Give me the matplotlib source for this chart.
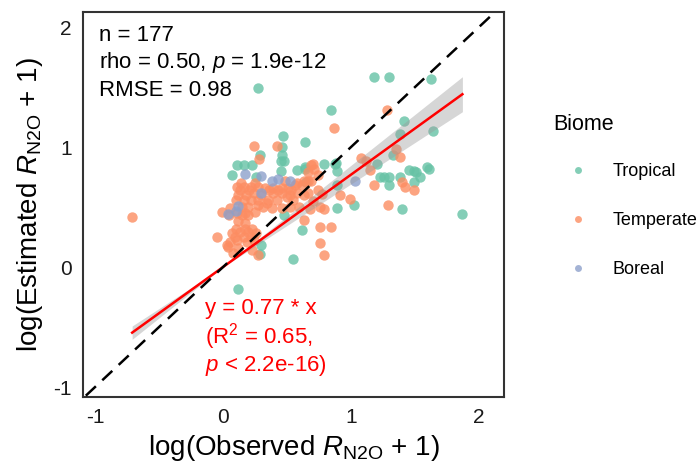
import matplotlib
matplotlib.use("Agg")
import matplotlib.pyplot as plt
from matplotlib.lines import Line2D
import numpy as np

plt.rcParams["font.family"] = ["Liberation Sans", "DejaVu Sans"]
plt.rcParams["mathtext.fontset"] = "custom"
plt.rcParams["mathtext.rm"] = "Liberation Sans"
plt.rcParams["mathtext.it"] = "Liberation Sans:italic"
plt.rcParams["axes.unicode_minus"] = False

# observed / estimated log(R_N2O + 1), by biome
tropical_x = [0.27, 1.18, 1.30, 1.625, 0.84, 1.41, 1.64, 1.38, 0.47, 0.64, 0.29, 0.46, 0.46, 0.45,
              0.48, 0.107, 0.16, 0.23, 0.068, 0.26, 0.45, 0.575, 0.64, 0.79, 0.875, 0.89, 0.64,
              0.65, 0.89, 1.02, 0.89, 0.615, 0.48, 0.30, 0.29, 0.55, 0.12, 1.20, 1.33, 1.23,
              1.26, 1.30, 1.38, 1.30, 1.45, 1.49, 1.51, 1.59, 1.61, 1.49, 1.40, 1.87, 1.54, 0.88]
tropical_y = [1.49, 1.58, 1.58, 1.57, 1.31, 1.22, 1.13, 1.11, 1.09, 1.04, 0.93, 1.00, 0.93, 0.88,
              0.88, 0.85, 0.85, 0.85, 0.77, 0.75, 0.80, 0.81, 0.836, 0.86, 0.86, 0.80, 0.82,
              0.71, 0.68, 0.52, 0.49, 0.31, 0.43, 0.18, 0.11, 0.07, -0.18, 0.86, 0.93, 0.75,
              0.75, 0.75, 0.75, 0.68, 0.81, 0.80, 0.79, 0.83, 0.82, 0.71, 0.48, 0.44, 0.75, 0.87]

temperate_x = [-0.71, 1.28, 0.87, 0.24, 0.42, 0.28, 1.08, 1.12, 1.15, 1.38, 1.35, 1.18, 1.40,
               1.42, 1.49, 1.29, 0.69, 0.71, 0.665, 0.745, 0.70, 0.745, 0.77, 0.91, 0.99, 0.76,
               0.785, 0.68, 0.63, 0.76, 0.84, 0.76, 0.79, -0.05, -0.01, 0.276, 0.03,
               0.107, 0.16, 0.22, 0.277, 0.33, 0.39, 0.46, 0.51, 0.56, 0.615, 0.667,
               0.63, 0.69, 0.485,
               0.12, 0.18, 0.24, 0.30, 0.39, 0.46, 0.52, 0.58, 0.63,
               0.055, 0.146, 0.198, 0.315, 0.38, 0.46, 0.52, 0.59,
               0.05, 0.146, 0.198, 0.25, 0.12, 0.17,
               0.07, 0.135, 0.198, 0.26, 0.055, 0.107, 0.185, 0.24, 0.042, 0.12, 0.224,
               0.10, 0.16, 0.22, 0.27, 0.35, 0.42, 0.55, 0.13, 0.20, 0.36, 0.43, 0.53,
               0.14, 0.25, 0.58, 0.10, 0.17, 0.23, 0.09, 0.16, 0.22, 0.11, 0.17,
               0.70, 0.66, 0.50, 0.34, 0.27, 0.08]
temperate_y = [0.42, 1.31, 1.16, 1.01, 1.01, 0.90, 0.91, 0.88, 0.81, 0.92, 0.98, 0.68, 0.71,
               0.67, 0.64, 0.52, 0.85, 0.82, 0.79, 0.77, 0.86, 0.64, 0.61, 0.60, 0.57, 0.50,
               0.48, 0.48, 0.39, 0.335, 0.335, 0.20, 0.10, 0.25, 0.46, 0.10, 0.18,
               0.67, 0.67, 0.67, 0.67, 0.656, 0.656, 0.656, 0.656, 0.683, 0.683, 0.72,
               0.72, 0.72, 0.72,
               0.60, 0.60, 0.615, 0.60, 0.615, 0.615, 0.60, 0.615, 0.60,
               0.49, 0.50, 0.50, 0.50, 0.49, 0.49, 0.50, 0.50,
               0.43, 0.43, 0.43, 0.46, 0.38, 0.37,
               0.28, 0.29, 0.29, 0.28, 0.21, 0.225, 0.21, 0.225, 0.17, 0.16, 0.14,
               0.56, 0.56, 0.56, 0.56, 0.56, 0.56, 0.56, 0.64, 0.64, 0.64, 0.64, 0.64,
               0.70, 0.70, 0.70, 0.32, 0.32, 0.32, 0.25, 0.25, 0.25, 0.45, 0.45,
               0.55, 0.62, 0.58, 0.53, 0.52, 0.12]

boreal_x = [0.17, 0.30, 0.38, 0.43, 0.52, 0.30, 0.12, 0.04, 1.03, 0.10]
boreal_y = [0.775, 0.76, 0.72, 0.73, 0.72, 0.62, 0.51, 0.44, 0.72, 0.47]

biomes = ["Tropical", "Temperate", "Boreal"]
colors = ["#66C2A5", "#FC8D62", "#8DA0CB"]

# fitted line through origin and its 95% band
slope = 0.77
slope_ci = 0.078

fig = plt.figure(figsize=(7, 4.69), dpi=100)
ax = fig.add_axes([83 / 700, 72 / 469, 421 / 700, 385 / 469])

groups = [(tropical_x, tropical_y), (temperate_x, temperate_y), (boreal_x, boreal_y)]
for (gx, gy), c in zip(groups, colors):
    ax.scatter(gx, gy, s=56, color=c, alpha=0.8, linewidths=0, zorder=2)

all_x = np.concatenate([tropical_x, temperate_x, boreal_x])
xs = np.linspace(all_x.min(), all_x.max(), 200)
ax.fill_between(xs, (slope - slope_ci) * xs, (slope + slope_ci) * xs,
                color="#999999", alpha=0.4, linewidth=0, zorder=3)
ax.plot(xs, slope * xs, color="red", lw=1.8, zorder=4)

ax.set_xlim(-1.094, 2.195)
ax.set_ylim(-1.083, 2.125)
lims = np.array([-1.2, 2.3])
ax.plot(lims, lims, color="black", lw=1.8, dashes=(5.5, 3.5), zorder=5)

ax.set_xticks([-1, 0, 1, 2])
ax.set_yticks([-1, 0, 1, 2])
ax.tick_params(length=0, labelsize=15, colors="#1a1a1a", pad=8)
for sp in ax.spines.values():
    sp.set_color("#333333")
    sp.set_linewidth(1.5)

ax.set_xlabel(r"log(Observed $R_{\mathrm{N2O}}$ + 1)", fontsize=20, labelpad=4)
ax.set_ylabel(r"log(Estimated $R_{\mathrm{N2O}}$ + 1)", fontsize=20, labelpad=6)

txt = dict(transform=ax.transAxes, fontsize=16, va="center")
ax.text(0.038, 0.940, "n = 177", **txt)
ax.text(0.038, 0.868, r"rho = 0.50, $p$ = 1.9e-12", **txt)
ax.text(0.038, 0.795, "RMSE = 0.98", **txt)

ax.text(0.29, 0.231, "y = 0.77 * x", color="red", **txt)
ax.text(0.29, 0.156, r"(R$^2$ = 0.65,", color="red", **txt)
ax.text(0.29, 0.083, r"$p$ < 2.2e-16)", color="red", **txt)

# legend: title drawn on its own, entries below
fig.text(553 / 700, 1 - 125 / 469, "Biome", fontsize=15.5, va="center", ha="left")
handles = [Line2D([], [], ls="none", marker="o", markersize=5, color=c, alpha=0.8, markeredgewidth=0)
           for c in colors]
leg = fig.legend(handles, biomes, loc="upper left", bbox_to_anchor=(553 / 700, 1 - 163 / 469),
                 frameon=False, fontsize=13, borderpad=0, borderaxespad=0, labelspacing=1.78,
                 handlelength=2.75, handletextpad=0.55)

fig.savefig("out.png", dpi=100)
